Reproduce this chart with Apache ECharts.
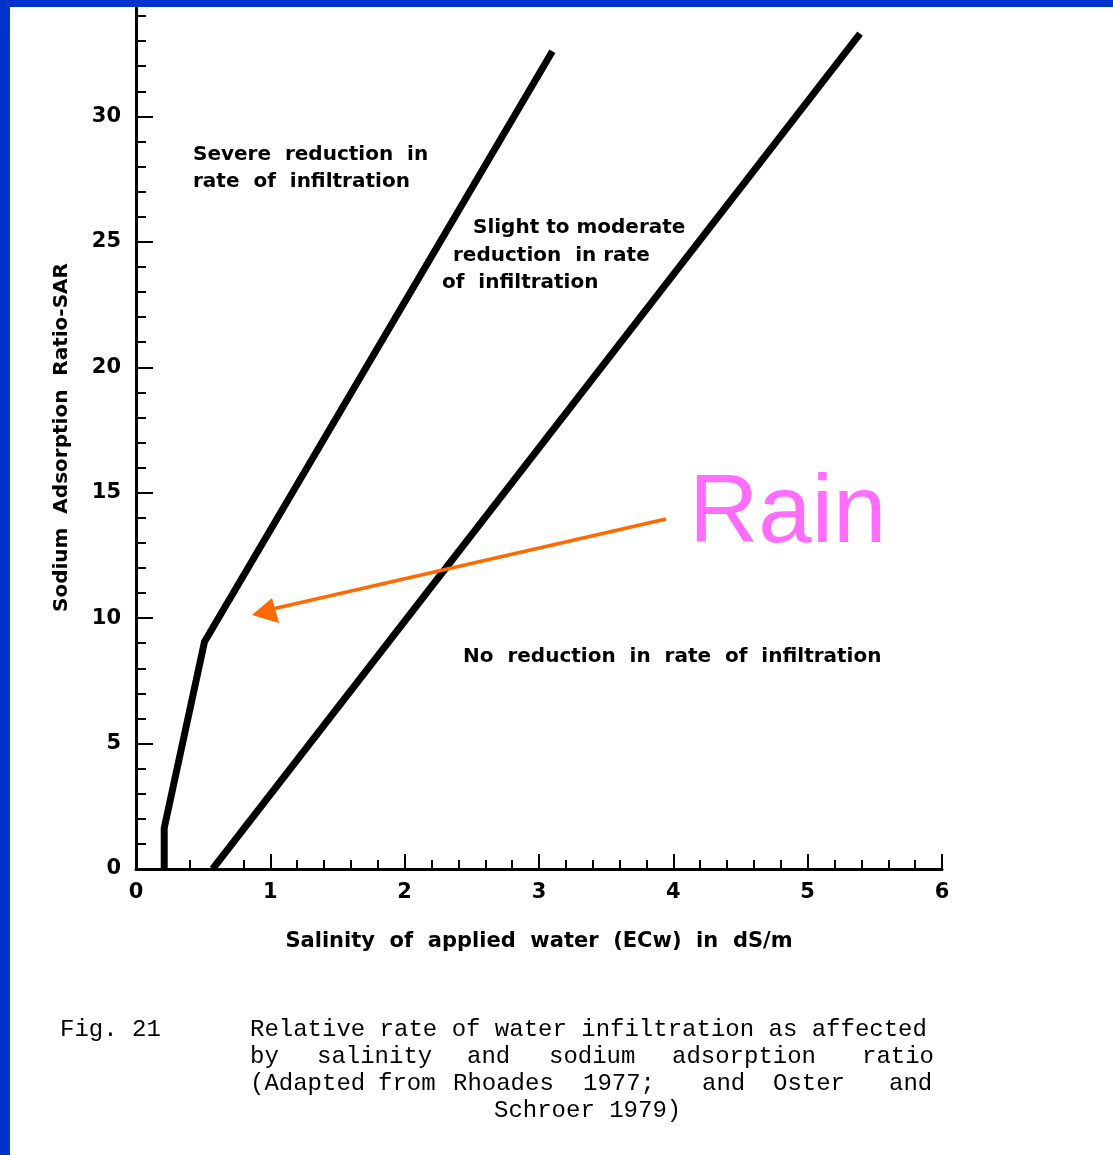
<!DOCTYPE html>
<html>
<head>
<meta charset="utf-8">
<script src="https://cdn.jsdelivr.net/npm/echarts@6/dist/echarts.min.js"></script>
<style>
  html, body { margin: 0; padding: 0; background: #fff; }
  #chart { width: 1113px; height: 1155px; }
</style>
</head>
<body>
<div id="chart"></div>
<script>
// ---- data ----
const severeX = [0.21, 0.21, 0.51, 3.10];
const severeY = [0, 1.63, 9.06, 32.6];
const slightX = [0.57, 5.39];
const slightY = [0, 33.3];

const xMajorTicks = [0, 1, 2, 3, 4, 5, 6];
const xMinorTicks = [0.2,0.4,0.6,0.8,1.2,1.4,1.6,1.8,2.2,2.4,2.6,2.8,3.2,3.4,3.6,3.8,4.2,4.4,4.6,4.8,5.2,5.4,5.6,5.8];
const yMajorTicks = [0, 5, 10, 15, 20, 25, 30];
const yMinorTicks = [0,1,2,3,4,5,6,7,8,9,10,11,12,13,14,15,16,17,18,19,20,21,22,23,24,25,26,27,28,29,30,31,32,33,34];

const xTitle = 'Salinity  of  applied  water  (ECw)  in  dS/m';
const yTitle = 'Sodium  Adsorption  Ratio-SAR';
const zoneSevere = ['Severe  reduction  in', 'rate  of  infiltration'];
const zoneSlight = ['Slight to moderate', 'reduction  in rate', 'of  infiltration'];
const zoneNone = 'No  reduction  in  rate  of  infiltration';
const rainLabel = 'Rain';
const captionFig = 'Fig. 21';
const captionLines = [
  [['Relative rate of water infiltration as affected', 250]],
  [['by', 250], ['salinity', 317], ['and', 467], ['sodium', 549], ['adsorption', 672], ['ratio', 862]],
  [['(Adapted', 250], ['from', 378], ['Rhoades', 453], ['1977;', 583], ['and', 702], ['Oster', 773], ['and', 889]],
  [['Schroer 1979)', 494]]
];

const pair = (xs, ys) => xs.map((x, i) => [x, ys[i]]);

const FONT = '"DejaVu Sans", sans-serif';
const MONO = '"Liberation Mono", "DejaVu Sans Mono", monospace';

const chart = echarts.init(document.getElementById('chart'));

const graphics = [];
graphics.push({ type: 'rect', shape: { x: 0, y: 0, width: 1113, height: 7 }, style: { fill: '#0033cc' }, z: 100 });
graphics.push({ type: 'rect', shape: { x: 0, y: 0, width: 10, height: 1155 }, style: { fill: '#0033cc' }, z: 100 });

function txt(t, x, y, font, fill) {
  return { type: 'text', x: x, y: y, z: 50,
    style: { text: t, font: font, fill: fill || '#000', align: 'left', verticalAlign: 'middle' } };
}
const annFont = 'bold 20px ' + FONT;
graphics.push(txt(zoneSevere[0], 193, 155, annFont));
graphics.push(txt(zoneSevere[1], 193, 182, annFont));
graphics.push(txt(zoneSlight[0], 473, 228, annFont));
graphics.push(txt(zoneSlight[1], 453, 256, annFont));
graphics.push(txt(zoneSlight[2], 442, 283, annFont));
graphics.push(txt(zoneNone, 463, 657, annFont));
graphics.push(txt(rainLabel, 689, 516, '96px "Liberation Sans", Arial, sans-serif', '#ff6dff'));

// arrow
graphics.push({ type: 'line', z: 60, shape: { x1: 666, y1: 519, x2: 268, y2: 610 },
  style: { stroke: '#ff6a00', lineWidth: 3.5 } });
graphics.push({ type: 'polygon', z: 60, shape: { points: [[252, 615], [272, 598], [279, 623]] },
  style: { fill: '#ff6a00' } });

// caption
const capFont = '24px ' + MONO;
const capY = [1030, 1057, 1084, 1111];
graphics.push(txt(captionFig, 60, capY[0], capFont));
captionLines.forEach((ln, i) => ln.forEach(w => graphics.push(txt(w[0], w[1], capY[i], capFont))));

const axisLineStyle = { color: '#000', width: 3 };
const labelStyle = { color: '#000', fontSize: 21, fontWeight: 'bold', fontFamily: FONT };

const option = {
  backgroundColor: '#fff',
  animation: false,
  grid: { left: 136, right: 171, top: 6, bottom: 286, containLabel: false },
  xAxis: [
    {
      type: 'value', min: 0, max: 6, interval: 1, position: 'bottom',
      axisLine: { show: true, onZero: false, lineStyle: axisLineStyle },
      axisTick: { show: true, inside: true, length: 15, customValues: xMajorTicks, lineStyle: { color: '#000', width: 2 } },
      axisLabel: Object.assign({ show: true, customValues: xMajorTicks, margin: 13 }, labelStyle),
      splitLine: { show: false },
      name: xTitle, nameLocation: 'middle', nameGap: 62,
      nameTextStyle: Object.assign({}, labelStyle, { fontSize: 21 })
    },
    {
      type: 'value', min: 0, max: 6, position: 'bottom', offset: 0,
      axisLine: { show: false, onZero: false },
      axisTick: { show: true, inside: true, length: 9, customValues: xMinorTicks, lineStyle: { color: '#000', width: 2 } },
      axisLabel: { show: false },
      splitLine: { show: false }
    }
  ],
  yAxis: [
    {
      type: 'value', min: 0, max: 34.4, position: 'left',
      axisLine: { show: true, onZero: false, lineStyle: axisLineStyle },
      axisTick: { show: true, inside: true, length: 17, customValues: yMajorTicks, lineStyle: { color: '#000', width: 2 } },
      axisLabel: Object.assign({ show: true, customValues: yMajorTicks, margin: 15 }, labelStyle),
      splitLine: { show: false },
      name: yTitle, nameLocation: 'middle', nameGap: 64, nameRotate: 90,
      nameTextStyle: Object.assign({}, labelStyle, { fontSize: 20 })
    },
    {
      type: 'value', min: 0, max: 34.4, position: 'left', offset: 0,
      axisLine: { show: false, onZero: false },
      axisTick: { show: true, inside: true, length: 10, customValues: yMinorTicks, lineStyle: { color: '#000', width: 2 } },
      axisLabel: { show: false },
      splitLine: { show: false }
    }
  ],
  series: [
    {
      type: 'line', name: 'Severe', xAxisIndex: 0, yAxisIndex: 0,
      data: pair(severeX, severeY), symbol: 'none',
      lineStyle: { color: '#000', width: 7, join: 'miter' }, z: 10
    },
    {
      type: 'line', name: 'Slight', xAxisIndex: 0, yAxisIndex: 0,
      data: pair(slightX, slightY), symbol: 'none',
      lineStyle: { color: '#000', width: 7 }, z: 10
    }
  ],
  graphic: graphics
};
chart.setOption(option);
</script>
</body>
</html>
